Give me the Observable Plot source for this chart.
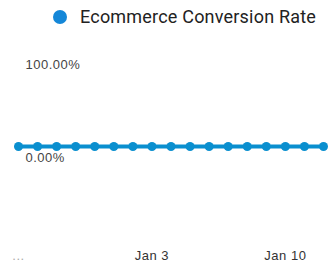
<!DOCTYPE html>
<html>
<head>
<meta charset="utf-8">
<script src="https://cdn.jsdelivr.net/npm/d3@7"></script>
<script src="https://cdn.jsdelivr.net/npm/@observablehq/plot@0.6"></script>
<style>
  html, body { margin: 0; padding: 0; background: #fff; }
  #wrap { position: relative; width: 332px; height: 268px; overflow: hidden; }
  #legend { position: absolute; left: 53px; top: 6px; display: flex; align-items: center;
    font-family: Roboto, "Noto Sans", sans-serif; font-size: 18px; letter-spacing: 0.2px; color: #222; }
  #legend .sw { width: 14px; height: 14px; border-radius: 50%; background: #1487d8; margin-right: 13px; }
  #chart { position: absolute; left: 0; top: 0; }
</style>
</head>
<body>
<div id="wrap">
  <div id="chart"></div>
  <div id="legend"><span class="sw"></span><span>Ecommerce Conversion Rate</span></div>
</div>
<script>
const dates = ["2020-12-27","2020-12-28","2020-12-29","2020-12-30","2020-12-31","2021-01-01","2021-01-02",
  "2021-01-03","2021-01-04","2021-01-05","2021-01-06","2021-01-07","2021-01-08","2021-01-09",
  "2021-01-10","2021-01-11","2021-01-12"];
const conversionRate = [0,0,0,0,0,0,0,0,0,0,0,0,0,0,0,0,0];
const xTicks = ["2020-12-27","2021-01-03","2021-01-10"];
const xTickLabels = ["...","Jan 3","Jan 10"];
const yTicks = [0, 1];
const yTickLabels = ["0.00%","100.00%"];

const data = dates.map((d, i) => ({date: new Date(d + "T00:00:00Z"), value: conversionRate[i]}));
const xt = xTicks.map((d, i) => ({date: new Date(d + "T00:00:00Z"), label: xTickLabels[i]}));
const yt = yTicks.map((v, i) => ({v, label: yTickLabels[i]}));

const color = "#0a8fcf";
const chart = Plot.plot({
  width: 332,
  height: 268,
  marginLeft: 18,
  marginRight: 9,
  marginTop: 53,
  marginBottom: 122,
  style: {fontFamily: "'Liberation Sans', Arial, sans-serif", background: "transparent", letterSpacing: "0.5px"},
  x: {type: "utc", domain: [data[0].date, data[data.length - 1].date], axis: null},
  y: {domain: [0, 1], axis: null},
  marks: [
    Plot.text(xt, {x: "date", text: "label", frameAnchor: "bottom", dy: 113, fontSize: 13,
      fill: (d, i) => i === 0 ? "#aaa" : "#333"}),
    Plot.text(yt, {y: "v", text: "label", frameAnchor: "left", textAnchor: "start",
      dx: 7, dy: 11, fontSize: 13, fill: "#444"}),
    Plot.line(data, {x: "date", y: "value", stroke: color, strokeWidth: 4}),
    Plot.dot(data, {x: "date", y: "value", r: 4.5, fill: color, stroke: "none"})
  ]
});
document.getElementById("chart").appendChild(chart);
</script>
</body>
</html>
